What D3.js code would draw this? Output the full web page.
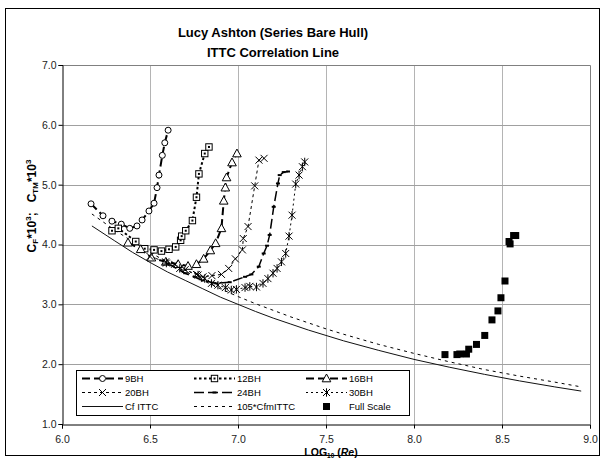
<!DOCTYPE html>
<html>
<head>
<meta charset="utf-8">
<script src="https://cdn.jsdelivr.net/npm/d3@7"></script>
<style>
  html, body { margin: 0; padding: 0; background: #fff; }
  svg { display: block; font-family: "Liberation Sans", Arial, sans-serif; }
</style>
</head>
<body>
<svg id="chart" width="605" height="461"></svg>
<script>
// Model-test series: [log10(Re), C*10^3]
const bh9 = [[6.165,4.68],[6.233,4.48],[6.284,4.39],[6.337,4.34],[6.385,4.27],[6.426,4.31],[6.455,4.41],[6.494,4.56],[6.523,4.69],[6.540,4.95],[6.551,5.16],[6.570,5.49],[6.584,5.70],[6.603,5.91]];
const bh12 = [[6.284,4.23],[6.320,4.27],[6.419,4.05],[6.470,3.93],[6.523,3.91],[6.565,3.89],[6.608,3.92],[6.646,3.96],[6.674,4.07],[6.680,4.14],[6.703,4.23],[6.741,4.40],[6.764,4.79],[6.778,5.18],[6.811,5.52],[6.835,5.63]];
const bh16 = [[6.375,4.03],[6.447,3.92],[6.508,3.78],[6.590,3.71],[6.660,3.67],[6.716,3.64],[6.764,3.67],[6.805,3.76],[6.843,3.90],[6.873,4.02],[6.906,4.27],[6.919,4.73],[6.928,4.95],[6.935,5.12],[6.966,5.37],[6.994,5.52]];
const bh20 = [[6.500,3.80],[6.589,3.71],[6.640,3.67],[6.700,3.58],[6.764,3.50],[6.801,3.46],[6.852,3.48],[6.906,3.50],[6.947,3.60],[6.985,3.76],[7.025,3.91],[7.030,4.10],[7.057,4.30],[7.095,4.98],[7.119,5.41],[7.148,5.44]];
const bh24 = [[6.600,3.68],[6.700,3.52],[6.800,3.40],[6.877,3.35],[6.953,3.37],[7.040,3.46],[7.076,3.50],[7.118,3.63],[7.146,3.85],[7.165,3.98],[7.180,4.16],[7.203,4.63],[7.227,5.02],[7.237,5.16],[7.260,5.21],[7.284,5.22]];
const bh30 = [[6.593,3.69],[6.669,3.60],[6.773,3.49],[6.811,3.43],[6.849,3.35],[6.886,3.32],[6.928,3.28],[6.962,3.24],[6.991,3.25],[7.040,3.28],[7.067,3.30],[7.105,3.29],[7.142,3.35],[7.170,3.43],[7.199,3.52],[7.222,3.60],[7.247,3.71],[7.271,3.85],[7.290,4.14],[7.307,4.49],[7.328,5.01],[7.347,5.16],[7.366,5.30],[7.379,5.38]];

// Friction lines
const cfIttc = [[6.17,4.31],[6.3,4.06],[6.4,3.87],[6.5,3.70],[6.6,3.54],[6.7,3.40],[6.8,3.26],[6.9,3.12],[7.0,3.00],[7.1,2.88],[7.2,2.77],[7.3,2.67],[7.4,2.57],[7.5,2.48],[7.6,2.39],[7.8,2.23],[8.0,2.08],[8.2,1.95],[8.4,1.83],[8.6,1.72],[8.8,1.62],[8.95,1.55]];
const cfm105 = [[6.17,4.51],[6.3,4.24],[6.4,4.05],[6.5,3.87],[6.6,3.70],[6.7,3.55],[6.8,3.40],[6.9,3.26],[7.0,3.13],[7.1,3.01],[7.2,2.90],[7.3,2.79],[7.4,2.69],[7.5,2.59],[7.6,2.50],[7.8,2.33],[8.0,2.18],[8.2,2.04],[8.4,1.91],[8.6,1.80],[8.8,1.70],[8.95,1.62]];

// Ship trials
const fullScale = [[8.176,2.16],[8.244,2.16],[8.260,2.17],[8.298,2.17],[8.311,2.25],[8.355,2.33],[8.402,2.48],[8.443,2.74],[8.477,2.89],[8.494,3.11],[8.517,3.39],[8.540,4.05],[8.546,4.01],[8.566,4.15],[8.578,4.15]];

const seriesNames = ["9BH","12BH","16BH","20BH","24BH","30BH","Cf  ITTC","105*CfmITTC","Full Scale"];
const xTicks = [6.0, 6.5, 7.0, 7.5, 8.0, 8.5, 9.0];
const yTicks = [1.0, 2.0, 3.0, 4.0, 5.0, 6.0, 7.0];

const svg = d3.select("#chart");

// Chart area frame
svg.append("rect").attr("x", 5.5).attr("y", 8.5).attr("width", 594).attr("height", 447)
  .attr("fill", "#fff").attr("stroke", "#000").attr("stroke-width", 1);

const plot = { left: 62, right: 590, top: 65, bottom: 424 };
const x = d3.scaleLinear().domain([6, 9]).range([plot.left, plot.right]);
const y = d3.scaleLinear().domain([1, 7]).range([plot.bottom, plot.top]);

// Gridlines
const grid = svg.append("g");
grid.selectAll("line.v").data(xTicks.slice(1, -1)).join("line")
  .attr("x1", d => Math.round(x(d)) + 0.5).attr("x2", d => Math.round(x(d)) + 0.5)
  .attr("y1", plot.top).attr("y2", plot.bottom).attr("stroke", "#b4b4b4");
grid.selectAll("line.h").data(yTicks.slice(1, -1)).join("line")
  .attr("y1", d => Math.round(y(d)) + 0.5).attr("y2", d => Math.round(y(d)) + 0.5)
  .attr("x1", plot.left).attr("x2", plot.right).attr("stroke", "#a0a0a0");
// Plot-area border (top and right)
svg.append("path")
  .attr("d", `M${plot.left},${plot.top + 0.5}H${plot.right + 0.5}V${plot.bottom}`)
  .attr("fill", "none").attr("stroke", "#808080");

// Axes
const fmt = d3.format(".1f");
const xAxis = svg.append("g").attr("transform", `translate(0,${plot.bottom + 0.5})`)
  .call(d3.axisBottom(x).tickValues(xTicks).tickFormat(fmt).tickSize(4).tickPadding(7));
const yAxis = svg.append("g").attr("transform", `translate(${plot.left + 0.5},0)`)
  .call(d3.axisLeft(y).tickValues(yTicks).tickFormat(fmt).tickSize(4).tickPadding(2));
[xAxis, yAxis].forEach(a => {
  a.select(".domain").attr("stroke", "#000");
  a.selectAll(".tick line").attr("stroke", "#000");
  a.selectAll(".tick text").attr("font-size", 10.5).attr("fill", "#222")
    .attr("font-family", "Liberation Sans, Arial, sans-serif");
});

// Marker symbols
function drawMarker(g, type) {
  const k = "#000";
  switch (type) {
    case "circle":
      g.append("circle").attr("r", 3).attr("fill", "#fff").attr("stroke", k); break;
    case "square":
      g.append("rect").attr("x", -3.2).attr("y", -3.2).attr("width", 6.4).attr("height", 6.4).attr("fill", "#fff").attr("stroke", k);
      g.append("rect").attr("x", -1).attr("y", -1).attr("width", 2).attr("height", 2).attr("fill", k); break;
    case "triangle":
      g.append("path").attr("d", "M0,-4.5L4.3,3.3L-4.3,3.3Z").attr("fill", "#fff").attr("stroke", k); break;
    case "cross":
      g.append("path").attr("d", "M-3.5,-3.5L3.5,3.5M-3.5,3.5L3.5,-3.5").attr("stroke", k); break;
    case "dash":
      g.append("path").attr("d", "M-2,0H2").attr("stroke", k).attr("stroke-width", 2); break;
    case "star":
      g.append("path").attr("d", "M-3.5,-3.5L3.5,3.5M-3.5,3.5L3.5,-3.5M0,-4.2V4.2").attr("stroke", k); break;
    case "filled":
      g.append("rect").attr("x", -3.5).attr("y", -3.5).attr("width", 7).attr("height", 7).attr("fill", k); break;
  }
}

const series = [
  { name: seriesNames[0], data: bh9,  width: 2,   dash: "8,4",  color: "#000", marker: "circle" },
  { name: seriesNames[1], data: bh12, width: 2,   dash: "2.5,2.5", color: "#000", marker: "square" },
  { name: seriesNames[2], data: bh16, width: 2,   dash: "8,4",  color: "#000", marker: "triangle" },
  { name: seriesNames[3], data: bh20, width: 1,   dash: "3,3",  color: "#000", marker: "cross" },
  { name: seriesNames[4], data: bh24, width: 1.5, dash: "10,4", color: "#000", marker: "dash" },
  { name: seriesNames[5], data: bh30, width: 1,   dash: "2,3",  color: "#000", marker: "star" },
  { name: seriesNames[6], data: cfIttc, width: 1, dash: null,   color: "#111", marker: null },
  { name: seriesNames[7], data: cfm105, width: 1, dash: "3,4",  color: "#000", marker: null },
  { name: seriesNames[8], data: fullScale, width: 0, dash: null, color: "#000", marker: "filled" }
];

const line = d3.line().x(d => x(d[0])).y(d => y(d[1]));
const marks = svg.append("g");
series.forEach(s => {
  if (s.width > 0) {
    marks.append("path").datum(s.data).attr("d", line)
      .attr("fill", "none").attr("stroke", s.color).attr("stroke-width", s.width)
      .attr("stroke-dasharray", s.dash);
  }
});
series.forEach(s => {
  if (!s.marker) return;
  marks.append("g").selectAll("g").data(s.data).join("g")
    .attr("transform", d => `translate(${x(d[0])},${y(d[1])})`)
    .each(function () { drawMarker(d3.select(this), s.marker); });
});

// Legend
const lg = svg.append("g");
lg.append("rect").attr("x", 76.5).attr("y", 370.5).attr("width", 333).attr("height", 45)
  .attr("fill", "#fff").attr("stroke", "#000");
const colX = [82, 194, 306];
const rowY = [378, 392, 406];
series.forEach((s, i) => {
  const cx = colX[i % 3], cy = rowY[Math.floor(i / 3)];
  const item = lg.append("g");
  if (s.width > 0) {
    item.append("line").attr("x1", cx).attr("x2", cx + 41).attr("y1", cy + 0.5).attr("y2", cy + 0.5)
      .attr("stroke", s.color).attr("stroke-width", s.width).attr("stroke-dasharray", s.dash);
  }
  if (s.marker) {
    const m = item.append("g").attr("transform", `translate(${cx + 20.5},${cy + 0.5})`);
    drawMarker(m, s.marker);
  }
  item.append("text").attr("x", cx + 43).attr("y", cy + 3.5)
    .attr("font-size", 9.5).attr("fill", "#000").text(s.name);
});

// Titles
const title = svg.append("g").attr("font-weight", "bold").attr("font-size", 13).attr("text-anchor", "middle");
title.append("text").attr("x", 273).attr("y", 37).text("Lucy Ashton (Series Bare Hull)");
title.append("text").attr("x", 273).attr("y", 57).text("ITTC Correlation Line");

// Axis titles
const xt = svg.append("text").attr("x", 331).attr("y", 456).attr("text-anchor", "middle")
  .attr("font-weight", "bold").attr("font-size", 10.5);
xt.append("tspan").text("LOG");
xt.append("tspan").attr("font-size", 6.5).attr("dy", 2).text("10");
xt.append("tspan").attr("dy", -2).text(" (");
xt.append("tspan").attr("font-style", "italic").text("Re");
xt.append("tspan").text(")");

const yt = svg.append("text").attr("transform", "translate(36,206) rotate(-90)")
  .attr("text-anchor", "middle").attr("font-weight", "bold").attr("font-size", 12);
yt.append("tspan").text("C");
yt.append("tspan").attr("font-size", 8).attr("dy", 2).text("F");
yt.append("tspan").attr("dy", -2).text("*10");
yt.append("tspan").attr("font-size", 8).attr("dy", -5).text("3");
yt.append("tspan").attr("dy", 5).text(";\u00a0\u00a0\u00a0C");
yt.append("tspan").attr("font-size", 8).attr("dy", 2).text("TM");
yt.append("tspan").attr("dy", -2).text("*10");
yt.append("tspan").attr("font-size", 8).attr("dy", -5).text("3");
</script>
</body>
</html>
